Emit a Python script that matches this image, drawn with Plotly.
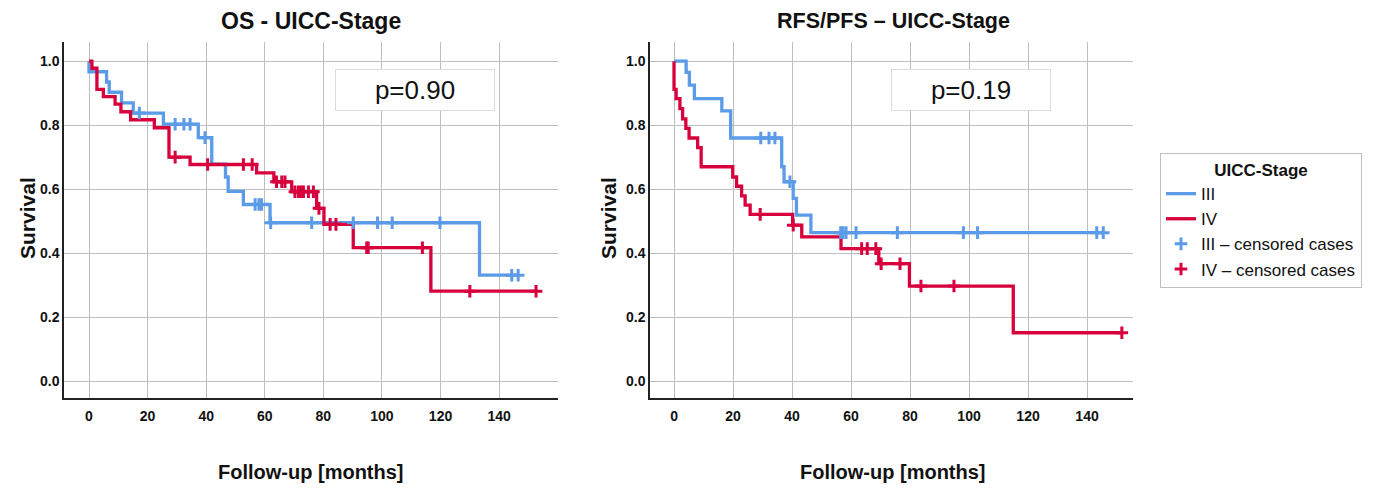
import plotly.graph_objects as go

BLUE = "#5b9be8"
RED = "#d7003c"
GRID = "#bdbdbd"
FONT = "Liberation Sans, Arial, sans-serif"

# ---------------- OS (left panel) ----------------
os_iii_t = [0, 6.0, 6.9, 11.1, 15.1, 25.4, 37.3, 41.9, 46.6, 47.5, 52.7, 61.8, 133.3]
os_iii_s = [0.967, 0.935, 0.903, 0.870, 0.838, 0.803, 0.761, 0.678, 0.638, 0.593, 0.552, 0.495, 0.331]
os_iii_cens = [17.2, 29.4, 32.4, 34.5, 39.6, 56.7, 58.0, 58.9, 62.0, 76.0, 90.2, 98.5, 103.5, 119.8, 144.3, 146.5]

os_iv_t = [1.0, 2.7, 4.9, 8.9, 10.9, 14.2, 22.3, 27.3, 34.5, 57.2, 63.1, 69.2, 77.7, 80.2, 90.2, 116.7]
os_iv_s = [0.978, 0.912, 0.889, 0.866, 0.842, 0.817, 0.792, 0.700, 0.677, 0.651, 0.623, 0.592, 0.540, 0.490, 0.417, 0.281]
os_iv_cens = [29.4, 40.5, 52.7, 55.7, 64.0, 65.8, 66.9, 70.3, 71.5, 72.4, 73.2, 74.9, 76.6, 78.5,
              82.3, 84.3, 94.8, 95.3, 113.8, 130.0, 152.6]

# ---------------- RFS/PFS (right panel) ----------------
rfs_iii_t = [4.1, 5.2, 6.9, 16.2, 19.2, 36.5, 37.3, 40.4, 41.5, 46.4]
rfs_iii_s = [0.965, 0.925, 0.883, 0.845, 0.760, 0.670, 0.623, 0.571, 0.519, 0.464]
rfs_iii_cens = [29.4, 32.2, 34.2, 39.3, 56.5, 57.3, 58.3, 61.7, 75.7, 98.1, 102.9, 143.3, 145.5]

rfs_iv_t = [0, 0.7, 2.0, 2.9, 4.0, 5.1, 8.0, 9.2, 19.9, 21.2, 22.9, 24.1, 25.8, 40.2, 43.3, 56.6,
            69.4, 79.8, 115.0]
rfs_iv_s = [0.912, 0.883, 0.852, 0.820, 0.790, 0.760, 0.730, 0.670, 0.638, 0.609, 0.579, 0.550,
            0.521, 0.4875, 0.451, 0.414, 0.367, 0.297, 0.151]
rfs_iv_cens = [29.2, 40.4, 63.6, 65.5, 68.4, 70.2, 76.6, 83.7, 94.9, 151.8]

x_ticks = [0, 20, 40, 60, 80, 100, 120, 140]
y_ticks = [0.0, 0.2, 0.4, 0.6, 0.8, 1.0]
panel_titles = ["OS - UICC-Stage", "RFS/PFS \u2013 UICC-Stage"]
p_values = ["p=0.90", "p=0.19"]
group_names = ["III", "IV"]


def step_arrays(times, surv, cens):
    xs = [0] + list(times)
    ys = [1.0] + list(surv)
    end = max(cens) if cens else xs[-1]
    if end > xs[-1]:
        xs.append(end)
        ys.append(ys[-1])
    return xs, ys


def surv_at(times, surv, t):
    s = 1.0
    for tt, ss in zip(times, surv):
        if tt <= t:
            s = ss
    return s


fig = go.Figure()

panels = [
    ("x", "y", [(os_iii_t, os_iii_s, os_iii_cens), (os_iv_t, os_iv_s, os_iv_cens)]),
    ("x2", "y2", [(rfs_iii_t, rfs_iii_s, rfs_iii_cens), (rfs_iv_t, rfs_iv_s, rfs_iv_cens)]),
]
colors = [BLUE, RED]

for pi, (xa, ya, groups) in enumerate(panels):
    show = pi == 0
    for gi, (t, s, c) in enumerate(groups):
        xs, ys = step_arrays(t, s, c)
        fig.add_trace(go.Scatter(
            x=xs, y=ys, mode="lines", xaxis=xa, yaxis=ya,
            line=dict(color=colors[gi], width=3.3, shape="hv"),
            name=group_names[gi], showlegend=show, legendrank=gi + 1,
            hoverinfo="skip"))
    for gi, (t, s, c) in enumerate(groups):
        cy = [surv_at(t, s, ct) for ct in c]
        fig.add_trace(go.Scatter(
            x=c, y=cy, mode="markers", xaxis=xa, yaxis=ya,
            marker=dict(symbol="cross-thin", size=9, color=colors[gi],
                        line=dict(color=colors[gi], width=3)),
            name=group_names[gi] + " \u2013 censored cases", showlegend=show,
            legendrank=gi + 3, hoverinfo="skip"))

axis_common = dict(
    showgrid=True, gridcolor=GRID, gridwidth=1, zeroline=False,
    showline=True, linecolor="#222222", linewidth=1.5,
    tickfont=dict(family=FONT, size=14, color="#111111", weight="bold"),
)

fig.update_layout(
    width=1394, height=488,
    margin=dict(l=0, r=0, t=0, b=0),
    paper_bgcolor="white", plot_bgcolor="white",
    font=dict(family=FONT, color="#111111"),
    xaxis=dict(domain=[0.0459, 0.4003], range=[-8.54, 160.1], tickvals=x_ticks,
               ticklabelstandoff=4, anchor="y", **axis_common),
    yaxis=dict(domain=[0.1844, 0.9139], range=[-0.053, 1.06], tickvals=y_ticks,
               tickformat=".1f", anchor="x", **axis_common),
    xaxis2=dict(domain=[0.4663, 0.8128], range=[-8.14, 155.6], tickvals=x_ticks,
                ticklabelstandoff=4, anchor="y2", **axis_common),
    yaxis2=dict(domain=[0.1844, 0.9139], range=[-0.053, 1.06], tickvals=y_ticks,
                tickformat=".1f", anchor="x2", **axis_common),
    legend=dict(
        x=1160 / 1394, y=1 - 153 / 488, xanchor="left", yanchor="top",
        bordercolor="#bfbfbf", borderwidth=1, bgcolor="white",
        font=dict(family=FONT, size=17, color="#111111"),
        title=dict(text="<b>UICC-Stage</b>", side="top center",
                   font=dict(family=FONT, size=17, color="#111111")),
        traceorder="normal", itemwidth=30, tracegroupgap=0,
    ),
)

annotations = []
centers = [311, 893]
title_sizes = [23, 21.5]
for i in range(2):
    annotations.append(dict(
        text="<b>" + panel_titles[i] + "</b>", x=centers[i] / 1394, y=1 - 21 / 488,
        xref="paper", yref="paper", xanchor="center", yanchor="middle", showarrow=False,
        font=dict(family=FONT, size=title_sizes[i], color="#111111")))
    annotations.append(dict(
        text="<b>Follow-up [months]</b>", x=centers[i] / 1394, y=1 - 472 / 488,
        xref="paper", yref="paper", xanchor="center", yanchor="middle", showarrow=False,
        font=dict(family=FONT, size=20, color="#111111")))
for xc in [27, 608]:
    annotations.append(dict(
        text="<b>Survival</b>", x=xc / 1394, y=1 - 218 / 488, textangle=-90,
        xref="paper", yref="paper", xanchor="center", yanchor="middle", showarrow=False,
        font=dict(family=FONT, size=21, color="#111111")))
pcenters = [415, 971]
for i in range(2):
    annotations.append(dict(
        text=p_values[i], x=pcenters[i] / 1394, y=1 - 90 / 488,
        xref="paper", yref="paper", xanchor="center", yanchor="middle", showarrow=False,
        width=156, height=38, bordercolor="#dcdcdc", borderwidth=1, bgcolor="white",
        font=dict(family=FONT, size=26, color="#111111")))
fig.update_layout(annotations=annotations)

fig.write_html("out.html", config={"displayModeBar": False},
               post_script="document.body.style.margin='0px';document.body.style.padding='0px';")
